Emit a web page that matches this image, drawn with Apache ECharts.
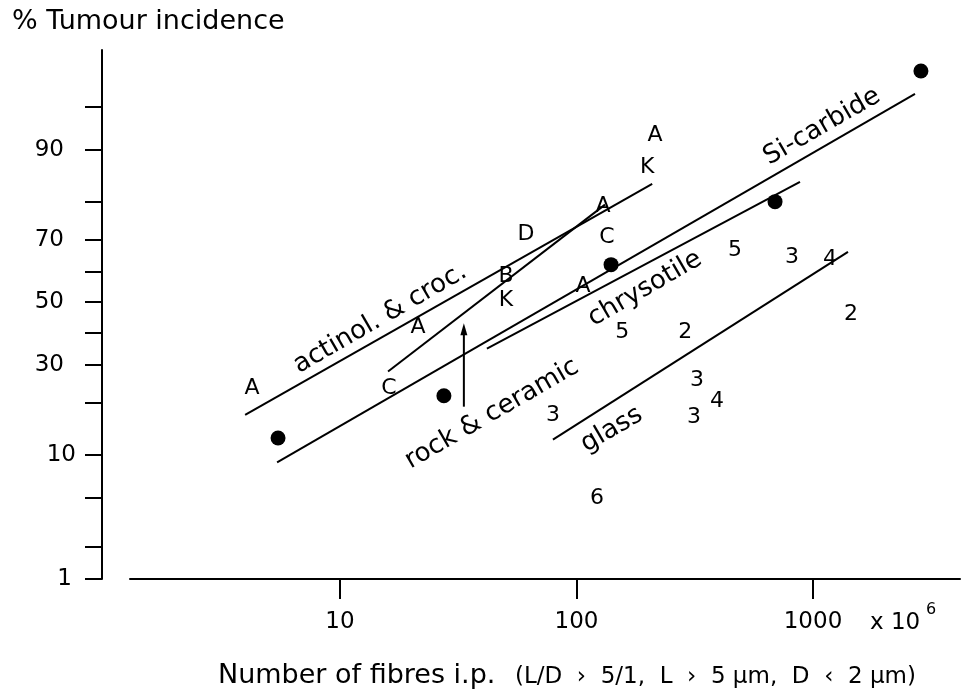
<!DOCTYPE html>
<html>
<head>
<meta charset="utf-8">
<script src="https://cdn.jsdelivr.net/npm/echarts@6/dist/echarts.min.js"></script>
<style>
  html, body { margin: 0; padding: 0; background: #fff; }
  #chart { width: 965px; height: 689px; }
</style>
</head>
<body>
<div id="chart"></div>
<script>
// Tumour incidence (probit scale) against number of fibres injected i.p. (log scale)

// Filled circles
const dotFibres = [5.47, 27.5, 140, 691, 2860];
const dotPct    = [12.7, 21.6, 62.4, 80.1, 97.4];

// Lettered / numbered study points
const markText   = ['A', 'A', 'A', 'K', 'D', 'A', 'C', 'B', 'K', 'C', 'A',
                    '5', '3', '4', '2', '5', '2', '3', '3', '3', '4', '6'];
const markFibres = [4.25, 21.4, 215, 199, 61.2, 129.5, 134.6, 50.3, 50.3, 16.1, 106.5,
                    468, 815, 1180, 1448, 156, 288, 79.5, 323, 314, 393, 122];
const markPct    = [23.4, 41.8, 92.0, 87.1, 71.5, 78.9, 70.6, 58.5, 50.8, 23.4, 55.2,
                    67.0, 64.6, 64.0, 45.8, 39.9, 39.9, 17.2, 25.7, 16.6, 20.2, 5.0];

// Fitted dose-response lines: start and end of each
const lineFibres = [[3.97, 209], [15.96, 132], [5.42, 2700], [41.8, 881], [79.5, 1406]];
const linePct    = [[17.2, 84.0], [28.0, 79.4], [8.9, 96.0], [34.8, 84.4], [12.4, 66.4]];

// Fibre group names written along the lines
const groupText   = ['actinol. & croc.', 'rock & ceramic', 'chrysotile', 'Si-carbide', 'glass'];
const groupFibres = [14.8, 43.9, 195, 1092, 141];
const groupPct    = [44.5, 17.4, 54.5, 93.0, 14.2];

// Vertical arrow
const arrowFibres = 33.4;
const arrowPct    = [19.0, 41.0];

// Axis ticks
const xTickFibres = [10, 100, 1000];
const yTickPct    = [95, 90, 80, 70, 60, 50, 40, 30, 20, 10, 5, 2, 1];
const yLabelPct   = [90, 70, 50, 30, 10, 1];

// Inverse standard normal CDF (Acklam), used for the probit axis
function probit(p) {
  const a = [-3.969683028665376e+01, 2.209460984245205e+02, -2.759285104469687e+02,
             1.383577518672690e+02, -3.066479806614716e+01, 2.506628277459239e+00];
  const b = [-5.447609879822406e+01, 1.615858368580409e+02, -1.556989798598866e+02,
             6.680131188771972e+01, -1.328068155288572e+01];
  const c = [-7.784894002430293e-03, -3.223964580411365e-01, -2.400758277161838e+00,
             -2.549732539343734e+00, 4.374664141464968e+00, 2.938163982698783e+00];
  const d = [7.784695709041462e-03, 3.224671290700398e-01, 2.445134137142996e+00,
             3.754408661907416e+00];
  const pl = 0.02425, ph = 1 - pl;
  let q, r;
  if (p < pl) {
    q = Math.sqrt(-2 * Math.log(p));
    return (((((c[0]*q + c[1])*q + c[2])*q + c[3])*q + c[4])*q + c[5]) /
           ((((d[0]*q + d[1])*q + d[2])*q + d[3])*q + 1);
  }
  if (p <= ph) {
    q = p - 0.5; r = q * q;
    return (((((a[0]*r + a[1])*r + a[2])*r + a[3])*r + a[4])*r + a[5]) * q /
           (((((b[0]*r + b[1])*r + b[2])*r + b[3])*r + b[4])*r + 1);
  }
  q = Math.sqrt(-2 * Math.log(1 - p));
  return -(((((c[0]*q + c[1])*q + c[2])*q + c[3])*q + c[4])*q + c[5]) /
          ((((d[0]*q + d[1])*q + d[2])*q + d[3])*q + 1);
}
const py = pct => probit(pct / 100);
const lx = v => Math.log10(v);

const FONT = 'DejaVu Sans';
const INK = '#000';

const series = [];

lineFibres.forEach((f, i) => {
  series.push({
    type: 'line',
    data: [[lx(f[0]), py(linePct[i][0])], [lx(f[1]), py(linePct[i][1])]],
    showSymbol: false,
    lineStyle: { color: INK, width: 2 },
    silent: true
  });
});

series.push({
  type: 'line',
  symbol: 'none',
  showSymbol: true,
  data: [
    { value: [lx(arrowFibres), py(arrowPct[0])] },
    { value: [lx(arrowFibres), py(arrowPct[1])], symbol: 'triangle', symbolSize: [7, 12] }
  ],
  itemStyle: { color: INK, opacity: 1 },
  lineStyle: { color: INK, width: 2 },
  silent: true
});

series.push({
  type: 'scatter',
  symbol: 'circle',
  symbolSize: 15,
  itemStyle: { color: INK, opacity: 1 },
  data: dotFibres.map((f, i) => [lx(f), py(dotPct[i])]),
  silent: true
});

series.push({
  type: 'scatter',
  symbol: 'circle',
  symbolSize: 2,
  itemStyle: { color: 'rgba(0,0,0,0)', opacity: 1 },
  label: {
    show: true, position: 'inside', color: INK, opacity: 1,
    fontFamily: FONT, fontSize: 22,
    formatter: p => p.name
  },
  data: markFibres.map((f, i) => ({ name: markText[i], value: [lx(f), py(markPct[i])] })),
  silent: true
});

series.push({
  type: 'scatter',
  symbol: 'circle',
  symbolSize: 2,
  itemStyle: { color: 'rgba(0,0,0,0)', opacity: 1 },
  label: {
    show: true, position: 'inside', color: INK, opacity: 1,
    fontFamily: FONT, fontSize: 26, rotate: 30,
    formatter: p => p.name
  },
  data: groupFibres.map((f, i) => ({ name: groupText[i], value: [lx(f), py(groupPct[i])] })),
  silent: true
});

const chart = echarts.init(document.getElementById('chart'));
chart.setOption({
  animation: false,
  backgroundColor: '#fff',
  grid: { left: 130, right: 5, top: 50, bottom: 110, containLabel: false },
  xAxis: {
    type: 'value',
    min: 0.112,
    max: 3.6216,
    axisLine: { show: true, onZero: false, lineStyle: { color: INK, width: 2 } },
    axisTick: { show: true, length: 20, lineStyle: { color: INK, width: 2 },
                customValues: xTickFibres.map(lx) },
    axisLabel: {
      show: true, color: INK, fontFamily: FONT, fontSize: 23, margin: 32,
      customValues: xTickFibres.map(lx),
      formatter: v => String(Math.round(Math.pow(10, v)))
    },
    splitLine: { show: false }
  },
  yAxis: {
    type: 'value',
    min: py(1),
    max: py(98.3),
    offset: 28,
    axisLine: { show: true, onZero: false, lineStyle: { color: INK, width: 2 } },
    axisTick: { show: true, length: 17, lineStyle: { color: INK, width: 2 },
                customValues: yTickPct.map(py) },
    axisLabel: {
      show: true, color: INK, fontFamily: FONT, fontSize: 23, margin: 22,
      customValues: yLabelPct.map(py),
      formatter: v => {
        const hit = yLabelPct.find(p => Math.abs(py(p) - v) < 1e-6);
        if (hit === undefined) return '';
        const style = hit === 10 ? 'near' : (hit === 1 ? 'one' : 'far');
        return '{' + style + '|' + hit + '}';
      },
      rich: {
        far:  { fontFamily: FONT, fontSize: 23, color: INK, padding: [0, 16, 0, 0] },
        near: { fontFamily: FONT, fontSize: 23, color: INK, padding: [0, 4, 0, 0] },
        one:  { fontFamily: FONT, fontSize: 23, color: INK, padding: [0, 8, 0, 0] }
      }
    },
    splitLine: { show: false }
  },
  graphic: [
    { type: 'text', x: 12, y: 22,
      style: { text: '% Tumour incidence', fill: INK, font: '27px "DejaVu Sans"', verticalAlign: 'middle' } },
    { type: 'text', x: 218, y: 676,
      style: { text: 'Number of fibres i.p.', fill: INK, font: '27px "DejaVu Sans"', verticalAlign: 'middle' } },
    { type: 'text', x: 515, y: 677,
      style: { text: '(L/D  \u203A  5/1,  L  \u203A  5 \u00B5m,  D  \u2039  2 \u00B5m)', fill: INK, font: '23px "DejaVu Sans"', verticalAlign: 'middle' } },
    { type: 'text', x: 870, y: 623,
      style: { text: 'x 10', fill: INK, font: '23px "DejaVu Sans"', verticalAlign: 'middle' } },
    { type: 'text', x: 926, y: 610,
      style: { text: '6', fill: INK, font: '16px "DejaVu Sans"', verticalAlign: 'middle' } }
  ],
  series: series
});
</script>
</body>
</html>
